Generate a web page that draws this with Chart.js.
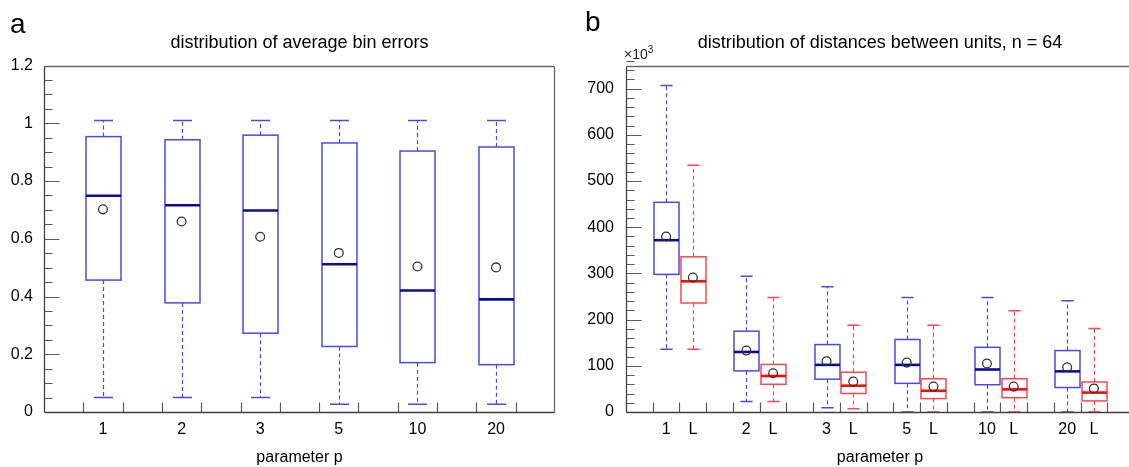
<!DOCTYPE html>
<html><head><meta charset="utf-8">
<script src="https://cdn.jsdelivr.net/npm/chart.js@4.4.1/dist/chart.umd.min.js"></script>
<style>
html,body{margin:0;padding:0;background:#fff;overflow:hidden;width:1129px;height:467px;position:relative;}
#wrapL{position:absolute;left:0;top:0;width:565px;height:467px;}
#wrapR{position:absolute;left:565px;top:0;width:575px;height:467px;}
.lbl{position:absolute;font-family:"Liberation Sans",Arial,sans-serif;color:#000;line-height:1;white-space:nowrap;}
</style></head><body>
<div id="wrapL"><canvas id="cL" width="565" height="467"></canvas></div>
<div id="wrapR"><canvas id="cR" width="575" height="467"></canvas></div>
<div class="lbl" style="left:10px;top:10px;font-size:28px;">a</div>
<div class="lbl" style="left:585px;top:8px;font-size:28px;">b</div>
<div class="lbl" style="left:624px;top:47px;font-size:14px;color:#222;">×10<span style="font-size:10px;position:relative;top:-6px;">3</span></div>
<script>
// ---------- Panel a: distribution of average bin errors ----------
const pCategories = ['1', '2', '3', '5', '10', '20'];
const errWhiskerHigh = [1.01, 1.01, 1.01, 1.01, 1.01, 1.01];
const errQ3          = [0.954, 0.943, 0.959, 0.932, 0.904, 0.918];
const errMedian      = [0.749, 0.716, 0.698, 0.512, 0.421, 0.390];
const errMean        = [0.702, 0.660, 0.607, 0.551, 0.504, 0.501];
const errQ1          = [0.457, 0.378, 0.273, 0.227, 0.171, 0.164];
const errWhiskerLow  = [0.050, 0.050, 0.050, 0.027, 0.027, 0.027];
const errYTicks = [0, 0.2, 0.4, 0.6, 0.8, 1, 1.2];

// ---------- Panel b: distances between units (x10^3) ----------
const distCategories = ['1', '2', '3', '5', '10', '20'];
const lLabel = 'L';
const pWhiskerHigh = [707, 294, 271, 248, 248, 241];
const pQ3          = [454, 175, 146, 157, 140, 133];
const pMedian      = [372, 130, 102, 102, 92, 88];
const pMean        = [380, 133, 110, 107, 105, 97];
const pQ1          = [298, 89, 71, 62, 59, 53];
const pWhiskerLow  = [136, 23, 9, 0, 0, 0];
const lWhiskerHigh = [534, 248, 188, 188, 219, 181];
const lQ3          = [336, 103, 86, 72, 72, 65];
const lMedian      = [283, 78, 57, 46, 49, 42];
const lMean        = [291, 84, 66, 55, 55, 51];
const lQ1          = [236, 60, 40, 29, 31, 24];
const lWhiskerLow  = [136, 23, 7, 0, 0, 0];
const distYTicks = [0, 100, 200, 300, 400, 500, 600, 700];

const FONT = '"Liberation Sans", Arial, sans-serif';
const BLUE = '#4a4ae8', BLUE_MED = '#0b0b98';
const RED = '#ff4646', RED_MED = '#ff0a0a';
const AXIS = '#404040', TICK = '#5a5a5a';

function buildBoxes(pos, lo, q1, med, q3, hi, color, medColor) {
  return pos.map((x, i) => ({x, lo: lo[i], q1: q1[i], med: med[i], q3: q3[i], hi: hi[i], color, medColor}));
}

function makePanel(canvasId, cfg) {
  const boxPlugin = {
    id: 'boxes',
    beforeDatasetsDraw(chart) {
      const ctx = chart.ctx, xs = chart.scales.x, ys = chart.scales.y;
      ctx.save();
      cfg.boxes.forEach(b => {
        const X = Math.round(xs.getPixelForValue(b.x)) + 0.5;
        const hw = Math.abs(xs.getPixelForValue(b.x + cfg.boxWidth / 2) - xs.getPixelForValue(b.x));
        const cw = Math.abs(xs.getPixelForValue(b.x + cfg.capWidth / 2) - xs.getPixelForValue(b.x));
        const yLo = ys.getPixelForValue(b.lo), yQ1 = ys.getPixelForValue(b.q1);
        const yMed = ys.getPixelForValue(b.med), yQ3 = ys.getPixelForValue(b.q3);
        const yHi = ys.getPixelForValue(b.hi);
        ctx.strokeStyle = b.color;
        // dashed whiskers
        ctx.lineWidth = 1.2;
        ctx.setLineDash([4, 3]);
        ctx.beginPath();
        ctx.moveTo(X, yQ3); ctx.lineTo(X, yHi);
        ctx.moveTo(X, yQ1); ctx.lineTo(X, yLo);
        ctx.stroke();
        ctx.setLineDash([]);
        ctx.lineWidth = 1.5;
        // caps
        ctx.beginPath();
        ctx.moveTo(X - cw, yHi); ctx.lineTo(X + cw, yHi);
        ctx.moveTo(X - cw, yLo); ctx.lineTo(X + cw, yLo);
        ctx.stroke();
        // box
        const l = Math.round(X - hw), r = Math.round(X + hw);
        const t = yQ3, bt = yQ1;
        ctx.fillStyle = '#ffffff';
        ctx.fillRect(l, t, r - l, bt - t);
        ctx.strokeRect(l, t, r - l, bt - t);
        // median
        ctx.strokeStyle = b.medColor;
        ctx.lineWidth = 2.6;
        ctx.beginPath();
        ctx.moveTo(l, yMed); ctx.lineTo(r, yMed);
        ctx.stroke();
      });
      ctx.restore();
    }
  };
  const framePlugin = {
    id: 'frame',
    afterDraw(chart) {
      const ctx = chart.ctx, a = chart.chartArea, xs = chart.scales.x, ys = chart.scales.y;
      ctx.save();
      const L = Math.round(a.left) + 0.5, R = Math.round(a.right) - 0.5;
      const T = Math.round(a.top) + 0.5, B = Math.round(a.bottom) + 0.5;
      // tick marks (inward)
      ctx.strokeStyle = TICK;
      ctx.lineWidth = 1.2;
      ctx.beginPath();
      const nMinor = Math.round((cfg.yMax - cfg.yMin) / cfg.yMinorStep);
      for (let k = 1; k <= nMinor; k++) {
        const v = cfg.yMin + k * cfg.yMinorStep;
        const isMajor = cfg.yTicks.some(t => Math.abs(t - v) < cfg.yMinorStep / 10);
        const y = Math.round(ys.getPixelForValue(v)) + 0.5;
        ctx.moveTo(L, y); ctx.lineTo(L + (isMajor ? 15 : 8), y);
      }
      cfg.xTickMarks.forEach(v => {
        const x = Math.round(xs.getPixelForValue(v)) + 0.5;
        ctx.moveTo(x, B); ctx.lineTo(x, B - 10);
      });
      ctx.stroke();
      // frame
      ctx.lineWidth = 1.3;
      ctx.strokeStyle = AXIS;
      ctx.beginPath();
      ctx.moveTo(L, T); ctx.lineTo(L, B);
      ctx.moveTo(L, B); ctx.lineTo(cfg.openRight ? chart.width : R, B);
      ctx.stroke();
      ctx.strokeStyle = '#666666';
      ctx.beginPath();
      ctx.moveTo(L, T); ctx.lineTo(cfg.openRight ? chart.width : R, T);
      if (!cfg.openRight) { ctx.moveTo(R, T); ctx.lineTo(R, B); }
      ctx.stroke();
      ctx.restore();
    }
  };
  return new Chart(document.getElementById(canvasId), {
    type: 'scatter',
    data: {
      datasets: cfg.means.map(m => ({
        data: m,
        pointStyle: 'circle',
        pointRadius: 4.4,
        pointBorderColor: '#333333',
        pointBackgroundColor: 'rgba(255,255,255,0)',
        pointBorderWidth: 1.3,
        showLine: false
      }))
    },
    options: {
      responsive: false,
      animation: false,
      events: [],
      layout: {padding: {left: 0, right: cfg.padRight, top: 0, bottom: 0}},
      plugins: {
        legend: {display: false},
        tooltip: {enabled: false},
        title: {
          display: true,
          text: cfg.title,
          fullSize: false,
          color: '#000',
          font: {family: FONT, size: 18, weight: 'normal', lineHeight: 1.2},
          padding: {top: 32, bottom: 12}
        }
      },
      scales: {
        x: {
          type: 'linear',
          min: cfg.xMin, max: cfg.xMax,
          grid: {display: false, drawTicks: false},
          border: {display: false},
          afterBuildTicks: s => { s.ticks = cfg.xLabelPos.map(v => ({value: v})); },
          afterFit: s => { s.height = 55; },
          ticks: {
            autoSkip: false, maxRotation: 0, padding: 8, color: '#000',
            font: {family: FONT, size: 16},
            callback: (v, i) => cfg.xLabels[i]
          },
          title: {
            display: true, text: 'parameter p', color: '#000',
            font: {family: FONT, size: 16, lineHeight: 1.2}, padding: {top: 0, bottom: 0}
          }
        },
        y: {
          type: 'linear',
          min: cfg.yMin, max: cfg.yMax,
          grid: {display: false, drawTicks: false},
          border: {display: false},
          afterBuildTicks: s => { s.ticks = cfg.yTicks.map(v => ({value: v})); },
          afterFit: s => { s.width = cfg.yAxisWidth; },
          ticks: {
            padding: cfg.yPad, color: '#000',
            font: {family: FONT, size: 16},
            callback: v => String(v)
          }
        }
      }
    },
    plugins: [boxPlugin, framePlugin]
  });
}

// ----- panel a -----
const errPos = pCategories.map((c, i) => i);
const errTickMarks = [];
errPos.forEach(p => { errTickMarks.push(p - 0.25, p + 0.25); });
makePanel('cL', {
  title: 'distribution of average bin errors',
  xMin: -0.75, xMax: 5.75, yMin: 0, yMax: 1.2, yMinorStep: 0.05,
  yTicks: errYTicks, yAxisWidth: 44, yPad: 11, padRight: 10,
  xLabelPos: errPos, xLabels: pCategories, xTickMarks: errTickMarks,
  boxWidth: 0.433, capWidth: 0.242, openRight: false,
  boxes: buildBoxes(errPos, errWhiskerLow, errQ1, errMedian, errQ3, errWhiskerHigh, BLUE, BLUE_MED),
  means: [errPos.map((x, i) => ({x, y: errMean[i]}))]
});

// ----- panel b -----
const pPos = distCategories.map((c, i) => 3 * i);
const lPos = distCategories.map((c, i) => 3 * i + 1);
const distLabelPos = [], distLabels = [], distTickMarks = [];
distCategories.forEach((c, i) => {
  distLabelPos.push(pPos[i], lPos[i]);
  distLabels.push(c, lLabel);
});
for (let k = -1; k <= 16; k++) distTickMarks.push(k + 0.5);
makePanel('cR', {
  title: 'distribution of distances between units, n = 64',
  xMin: -1.5, xMax: 17.5, yMin: 0, yMax: 750, yMinorStep: 20,
  yTicks: distYTicks, yAxisWidth: 61, yPad: 12, padRight: 6,
  xLabelPos: distLabelPos, xLabels: distLabels, xTickMarks: distTickMarks,
  boxWidth: 0.91, capWidth: 0.46, openRight: true,
  boxes: buildBoxes(pPos, pWhiskerLow, pQ1, pMedian, pQ3, pWhiskerHigh, BLUE, BLUE_MED)
    .concat(buildBoxes(lPos, lWhiskerLow, lQ1, lMedian, lQ3, lWhiskerHigh, RED, RED_MED)),
  means: [pPos.map((x, i) => ({x, y: pMean[i]})), lPos.map((x, i) => ({x, y: lMean[i]}))]
});
</script>
</body></html>
